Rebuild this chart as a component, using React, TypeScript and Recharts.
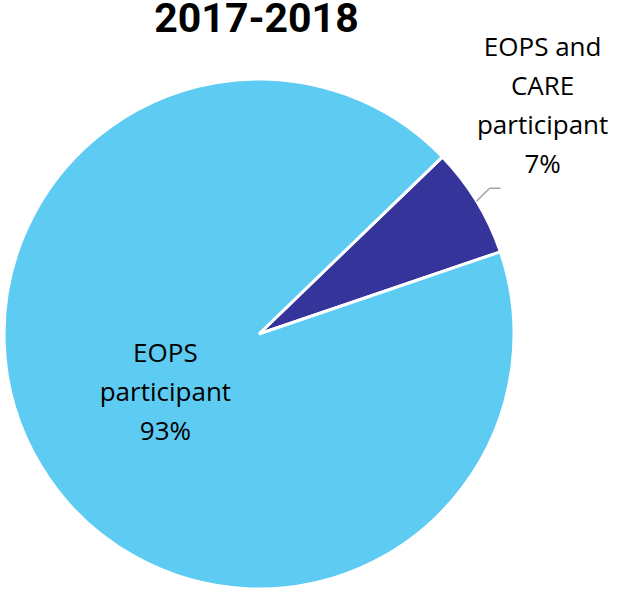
import { PieChart, Pie, Cell } from 'recharts';

const categories = ['EOPS and CARE participant', 'EOPS participant'];
const values = [7, 93];
const percentLabels = ['7%', '93%'];
const labelLines = [
  ['EOPS and', 'CARE', 'participant', '7%'],
  ['EOPS', 'participant', '93%'],
];
const colors = ['#35349A', '#5ECBF3'];

const RADIAN = Math.PI / 180;
const labelFont = '"Open Sans", Lato, sans-serif';

const data = categories.map((name, i) => ({ name, value: values[i], pct: percentLabels[i] }));

// Slice labels: small slice gets an outside label with a leader, big one sits inside
function renderLabel(props: any) {
  const { cx, cy, midAngle, outerRadius, index } = props;
  const lines = labelLines[index];
  if (index === 0) {
    const sx = cx + outerRadius * Math.cos(-midAngle * RADIAN);
    const sy = cy + outerRadius * Math.sin(-midAngle * RADIAN);
    const mx = sx + 13;
    const my = sy - 13;
    const ex = mx + 11;
    const tx = ex + 42;
    const top = my - 132;
    return (
      <g>
        <polyline
          points={`${sx},${sy} ${mx},${my} ${ex},${my}`}
          fill="none"
          stroke="#A6A6A6"
          strokeWidth={1.5}
        />
        {lines.map((t, i) => (
          <text
            key={i}
            x={tx}
            y={top + i * 39}
            textAnchor="middle"
            fontFamily={labelFont}
            fontSize={26}
            fill="#000"
          >
            {t}
          </text>
        ))}
      </g>
    );
  }
  const r = outerRadius * 0.43;
  const x = cx + r * Math.cos(-midAngle * RADIAN);
  const y = cy + r * Math.sin(-midAngle * RADIAN);
  return (
    <g>
      {lines.map((t, i) => (
        <text
          key={i}
          x={x}
          y={y - 29 + i * 39}
          textAnchor="middle"
          fontFamily={labelFont}
          fontSize={26}
          fill="#000"
        >
          {t}
        </text>
      ))}
    </g>
  );
}

export default function App() {
  return (
    <div style={{ position: 'absolute', left: 0, top: 0, width: 617, height: 592, background: '#fff' }}>
      <div
        style={{
          position: 'absolute',
          left: 0,
          top: 0,
          width: 513,
          textAlign: 'center',
          fontFamily: 'Roboto, sans-serif',
          fontWeight: 700,
          fontSize: 41,
          lineHeight: '36px',
          color: '#000',
        }}
      >
        2017-2018
      </div>
      <PieChart width={617} height={592} margin={{ top: 0, right: 0, bottom: 0, left: 0 }}>
        <Pie
          data={data}
          dataKey="value"
          nameKey="name"
          cx={259}
          cy={334}
          outerRadius={255}
          startAngle={44}
          endAngle={-316}
          stroke="#fff"
          strokeWidth={3}
          label={renderLabel}
          labelLine={false}
          isAnimationActive={false}
        >
          {data.map((d, i) => (
            <Cell key={d.name} fill={colors[i]} />
          ))}
        </Pie>
      </PieChart>
    </div>
  );
}
